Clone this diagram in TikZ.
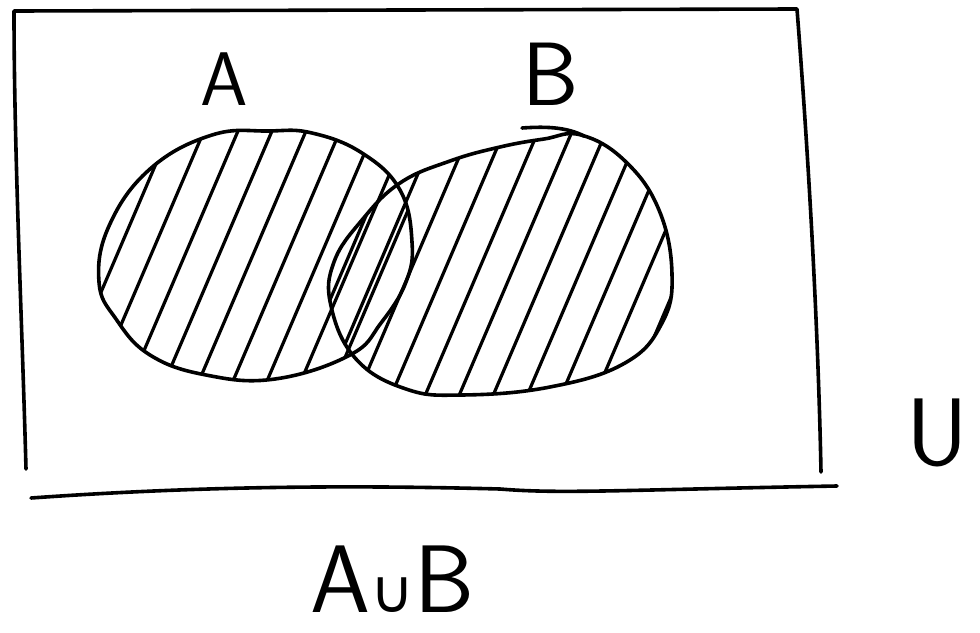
\documentclass[tikz,border=0pt]{standalone}
\usepackage{fontspec}
\newfontfamily\symfont{DejaVu Sans}
\begin{document}
\begin{tikzpicture}[x=1pt,y=-1pt,line width=3.6pt,line cap=round,line join=round,
  lbl/.style={font=\sffamily\fontsize{76}{76}\selectfont,inner sep=0pt},
  hatch/.style={line width=3.2pt}]
\useasboundingbox (0,0) rectangle (980,632);
% universe frame
\draw (26,469) .. controls (22,320) and (14,150) .. (14,11) -- (797,9)
      .. controls (808,150) and (818,320) .. (821,472);
\draw (31,498) .. controls (200,486) and (350,485) .. (500,489)
      .. controls (560,494) and (620,490) .. (837,486);
% hatching of A
\begin{scope}
\clip plot[smooth cycle,tension=0.7] coordinates {(99,282) (109,226) (150,169) (212,135) (269,131) (312,133) (362,153) (400,190) (412,242) (406,282) (381,323) (350,355) (275,379) (206,375) (150,355) (116,319)};
\foreach \x in {-230,-196,...,520} \draw[hatch] (\x,430) -- ++(137,-320);
\end{scope}
% hatching of B
\begin{scope}
\clip plot[smooth cycle,tension=0.7] coordinates {(581,135) (625,161) (659,210) (672,274) (662,323) (625,363) (550,387) (462,395) (406,389) (356,359) (331,306) (334,262) (362,220) (400,183) (450,161) (500,147) (544,139)};
\foreach \x in {100,134,...,760} \draw[hatch] (\x,440) -- ++(137,-320);
\end{scope}
% outlines
\draw plot[smooth cycle,tension=0.7] coordinates {(99,282) (109,226) (150,169) (212,135) (269,131) (312,133) (362,153) (400,190) (412,242) (406,282) (381,323) (350,355) (275,379) (206,375) (150,355) (116,319)};
\draw plot[smooth cycle,tension=0.7] coordinates {(581,135) (625,161) (659,210) (672,274) (662,323) (625,363) (550,387) (462,395) (406,389) (356,359) (331,306) (334,262) (362,220) (400,183) (450,161) (500,147) (544,139)};
\draw (522,128) .. controls (550,126) and (568,128) .. (584,136);
% labels
\node[lbl] (labA) at (224,79) {A};
\node[lbl,font=\sffamily\fontsize{90}{90}\selectfont] (labB) at (551,74) {B};
\node[lbl,font=\sffamily\fontsize{96}{96}\selectfont] (labU) at (937,433) {U};
\node[lbl,font=\sffamily\fontsize{96}{96}\selectfont,anchor=base,text depth=0pt] (labAB) at (393,612) {A{\symfont\fontsize{60}{60}\selectfont ∪}B};
\end{tikzpicture}
\end{document}
